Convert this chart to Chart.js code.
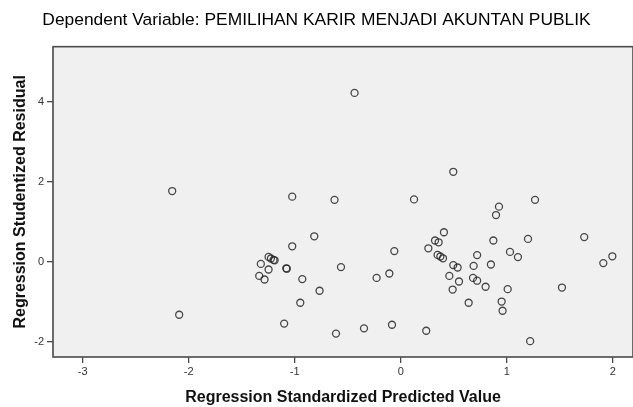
<!DOCTYPE html>
<html>
<head>
<meta charset="utf-8">
<script src="https://cdn.jsdelivr.net/npm/chart.js@4.4.1/dist/chart.umd.min.js"></script>
<style>
  html, body { margin: 0; padding: 0; background: #fff; overflow: hidden; }
  #wrap { width: 633px; height: 407px; }
</style>
</head>
<body>
<div id="wrap"><canvas id="chart" width="633" height="407"></canvas></div>
<script>
// predicted (x) and studentized residual (y)
const predicted = [
  -2.156, -1.024, -0.816, -1.024, -1.247, -1.225, -1.20, -1.19, -1.32, -1.247,
  -1.08, -1.075, -1.335, -1.285, -0.929, -0.766, -0.948, -2.09, -1.10, -0.436,
  0.495, -0.625, 0.125, 0.407, 0.323, 0.357, 0.26, -0.061, 0.347, 0.373,
  0.398, 0.495, 0.536, -0.564, 0.458, 0.549, -0.108, -0.228, 0.489, 0.64,
  -0.611, -0.347, -0.083, 0.24, 0.926, 0.898, 1.266, 0.873, 1.20, 1.73,
  1.03, 1.105, 0.72, 1.995, 1.91, 0.687, 0.85, 0.681, 0.72, 0.80,
  1.008, 1.52, 0.951, 0.96, 1.22
];
const residual = [
  1.77, 1.63, 0.64, 0.39, 0.125, 0.085, 0.05, 0.04, -0.05, -0.19,
  -0.16, -0.17, -0.35, -0.44, -0.43, -0.72, -1.02, -1.32, -1.54, 4.22,
  2.25, 1.55, 1.56, 0.74, 0.535, 0.49, 0.34, 0.27, 0.175, 0.135,
  0.09, -0.08, -0.14, -0.13, -0.35, -0.49, -0.29, -0.40, -0.69, -1.02,
  -1.79, -1.66, -1.57, -1.72, 1.38, 1.17, 1.55, 0.535, 0.575, 0.62,
  0.25, 0.12, 0.17, 0.14, -0.03, -0.10, -0.065, -0.40, -0.47, -0.62,
  -0.68, -0.64, -0.99, -1.22, -1.98
];
const xTicks = [-3, -2, -1, 0, 1, 2];
const yTicks = [-2, 0, 2, 4];

const FONT = 'Arial, "Liberation Sans", sans-serif';

const points = predicted.map((x, i) => ({ x: x, y: residual[i] }));

// grey plot background and frame like the SPSS output
const frame = {
  id: 'frame',
  beforeDatasetsDraw(chart) {
    const { ctx, chartArea: a } = chart;
    ctx.save();
    ctx.fillStyle = '#f0f0f0';
    ctx.fillRect(a.left, a.top, a.right - a.left, a.bottom - a.top);
    ctx.strokeStyle = '#4a4a4a';
    ctx.lineWidth = 1.6;
    ctx.strokeRect(a.left, a.top, a.right - a.left, a.bottom - a.top);
    ctx.restore();
  }
};

new Chart(document.getElementById('chart'), {
  type: 'scatter',
  data: {
    datasets: [{
      data: points,
      showLine: false,
      pointRadius: 3.5,
      pointHoverRadius: 3.5,
      pointBorderWidth: 1.3,
      borderColor: 'rgba(40,40,40,0.85)',
      backgroundColor: 'rgba(0,0,0,0)'
    }]
  },
  options: {
    responsive: false,
    animation: false,
    layout: { padding: 0, autoPadding: false },
    plugins: {
      legend: { display: false },
      tooltip: { enabled: false },
      title: {
        display: true,
        text: 'Dependent Variable: PEMILIHAN KARIR MENJADI AKUNTAN PUBLIK',
        color: '#000',
        font: { family: FONT, size: 17.4, weight: 'normal' },
        padding: { top: 10, bottom: 15.8 }
      }
    },
    scales: {
      x: {
        type: 'linear',
        min: -3.28,
        max: 2.19,
        afterBuildTicks: (scale) => { scale.ticks = xTicks.map(v => ({ value: v })); },
        afterFit: (scale) => {
          scale.height = 50;
          scale.paddingLeft = 0;
          scale.paddingRight = 0;
        },
        grid: { drawOnChartArea: false, drawTicks: true, tickLength: 6, color: '#4a4a4a', lineWidth: 1.3 },
        border: { display: false },
        ticks: { color: '#333', font: { family: FONT, size: 11 }, padding: 2, maxRotation: 0 },
        title: {
          display: true,
          text: 'Regression Standardized Predicted Value',
          color: '#111',
          font: { family: FONT, size: 16, weight: 'bold' },
          padding: { top: 0, bottom: 0 }
        }
      },
      y: {
        type: 'linear',
        min: -2.375,
        max: 5.375,
        afterBuildTicks: (scale) => { scale.ticks = yTicks.map(v => ({ value: v })); },
        afterFit: (scale) => {
          scale.width = 53;
          scale.paddingTop = 0;
          scale.paddingBottom = 0;
        },
        grid: { drawOnChartArea: false, drawTicks: true, tickLength: 6, color: '#4a4a4a', lineWidth: 1.3 },
        border: { display: false },
        ticks: { color: '#333', font: { family: FONT, size: 11 }, padding: 3 },
        title: {
          display: true,
          text: 'Regression Studentized Residual',
          color: '#111',
          font: { family: FONT, size: 16, weight: 'bold' },
          padding: { top: 11, bottom: 0 }
        }
      }
    }
  },
  plugins: [frame]
});
</script>
</body>
</html>
